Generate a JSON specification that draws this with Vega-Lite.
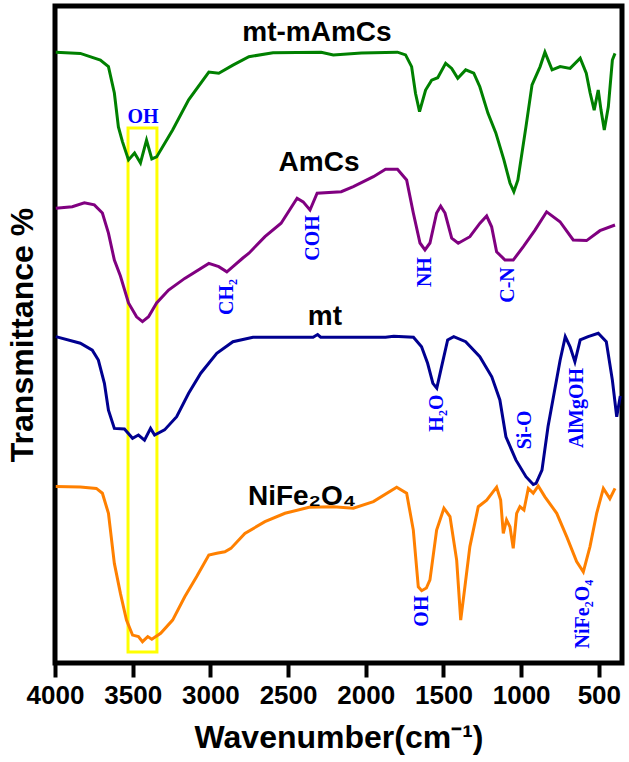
{
 "$schema": "https://vega.github.io/schema/vega-lite/v6.json",
 "width": 567,
 "height": 657,
 "autosize": {"type": "none"},
 "padding": {"left": 55, "top": 6, "right": 7, "bottom": 99},
 "background": "white",
 "config": {"view": {"stroke": "black", "strokeWidth": 5}},
 "datasets": {
  "spectra": [
   {"s":"mt-mAmCs","wn":3995,"t":203.6},{"s":"mt-mAmCs","wn":3837,"t":203.2},{"s":"mt-mAmCs","wn":3708,"t":201},{"s":"mt-mAmCs","wn":3656,"t":198.8},{"s":"mt-mAmCs","wn":3618,"t":190},{"s":"mt-mAmCs","wn":3592,"t":178.7},{"s":"mt-mAmCs","wn":3566,"t":173.8},{"s":"mt-mAmCs","wn":3527,"t":167.7},{"s":"mt-mAmCs","wn":3488,"t":170},{"s":"mt-mAmCs","wn":3450,"t":166.7},{"s":"mt-mAmCs","wn":3411,"t":174.3},{"s":"mt-mAmCs","wn":3377,"t":168},{"s":"mt-mAmCs","wn":3346,"t":168.7},{"s":"mt-mAmCs","wn":3243,"t":177.7},{"s":"mt-mAmCs","wn":3140,"t":187.7},{"s":"mt-mAmCs","wn":3010,"t":197},{"s":"mt-mAmCs","wn":2946,"t":196.6},{"s":"mt-mAmCs","wn":2855,"t":199.3},{"s":"mt-mAmCs","wn":2752,"t":202.1},{"s":"mt-mAmCs","wn":2597,"t":203.4},{"s":"mt-mAmCs","wn":2287,"t":203.6},{"s":"mt-mAmCs","wn":2209,"t":202.7},{"s":"mt-mAmCs","wn":2028,"t":203.3},{"s":"mt-mAmCs","wn":1796,"t":203.6},{"s":"mt-mAmCs","wn":1744,"t":202.7},{"s":"mt-mAmCs","wn":1705,"t":198.8},{"s":"mt-mAmCs","wn":1680,"t":189.9},{"s":"mt-mAmCs","wn":1654,"t":183.8},{"s":"mt-mAmCs","wn":1615,"t":191},{"s":"mt-mAmCs","wn":1576,"t":194.3},{"s":"mt-mAmCs","wn":1537,"t":195.1},{"s":"mt-mAmCs","wn":1486,"t":199.9},{"s":"mt-mAmCs","wn":1447,"t":198.2},{"s":"mt-mAmCs","wn":1408,"t":194.9},{"s":"mt-mAmCs","wn":1357,"t":197.7},{"s":"mt-mAmCs","wn":1305,"t":196.6},{"s":"mt-mAmCs","wn":1266,"t":192.1},{"s":"mt-mAmCs","wn":1214,"t":183.3},{"s":"mt-mAmCs","wn":1163,"t":176.7},{"s":"mt-mAmCs","wn":1111,"t":167.7},{"s":"mt-mAmCs","wn":1072,"t":160},{"s":"mt-mAmCs","wn":1047,"t":157.1},{"s":"mt-mAmCs","wn":1021,"t":161},{"s":"mt-mAmCs","wn":969,"t":178.8},{"s":"mt-mAmCs","wn":930,"t":192.7},{"s":"mt-mAmCs","wn":878,"t":198.8},{"s":"mt-mAmCs","wn":847,"t":203.6},{"s":"mt-mAmCs","wn":801,"t":197.7},{"s":"mt-mAmCs","wn":749,"t":198.8},{"s":"mt-mAmCs","wn":685,"t":198.2},{"s":"mt-mAmCs","wn":620,"t":201.6},{"s":"mt-mAmCs","wn":581,"t":196.6},{"s":"mt-mAmCs","wn":556,"t":190},{"s":"mt-mAmCs","wn":530,"t":184.3},{"s":"mt-mAmCs","wn":504,"t":191},{"s":"mt-mAmCs","wn":486,"t":184.3},{"s":"mt-mAmCs","wn":465,"t":177.7},{"s":"mt-mAmCs","wn":439,"t":185.4},{"s":"mt-mAmCs","wn":413,"t":201},{"s":"mt-mAmCs","wn":396,"t":203.2},
   {"s":"AmCs","wn":3995,"t":151.6},{"s":"AmCs","wn":3889,"t":152.1},{"s":"AmCs","wn":3811,"t":153.4},{"s":"AmCs","wn":3747,"t":152.7},{"s":"AmCs","wn":3695,"t":150},{"s":"AmCs","wn":3656,"t":143.3},{"s":"AmCs","wn":3618,"t":134.3},{"s":"AmCs","wn":3579,"t":129},{"s":"AmCs","wn":3527,"t":120},{"s":"AmCs","wn":3475,"t":115.4},{"s":"AmCs","wn":3437,"t":113.8},{"s":"AmCs","wn":3398,"t":115.4},{"s":"AmCs","wn":3346,"t":120},{"s":"AmCs","wn":3269,"t":124.3},{"s":"AmCs","wn":3165,"t":128.2},{"s":"AmCs","wn":3010,"t":133.2},{"s":"AmCs","wn":2946,"t":132.1},{"s":"AmCs","wn":2894,"t":130.4},{"s":"AmCs","wn":2855,"t":132.1},{"s":"AmCs","wn":2791,"t":135},{"s":"AmCs","wn":2752,"t":136.6},{"s":"AmCs","wn":2649,"t":142.1},{"s":"AmCs","wn":2545,"t":146.6},{"s":"AmCs","wn":2442,"t":154.9},{"s":"AmCs","wn":2403,"t":153.7},{"s":"AmCs","wn":2359,"t":151},{"s":"AmCs","wn":2313,"t":156.6},{"s":"AmCs","wn":2158,"t":157.1},{"s":"AmCs","wn":2080,"t":158.8},{"s":"AmCs","wn":1951,"t":162.1},{"s":"AmCs","wn":1873,"t":164.6},{"s":"AmCs","wn":1796,"t":164.6},{"s":"AmCs","wn":1737,"t":161},{"s":"AmCs","wn":1694,"t":150},{"s":"AmCs","wn":1651,"t":140},{"s":"AmCs","wn":1619,"t":137.7},{"s":"AmCs","wn":1587,"t":140},{"s":"AmCs","wn":1544,"t":150},{"s":"AmCs","wn":1518,"t":152.3},{"s":"AmCs","wn":1490,"t":150},{"s":"AmCs","wn":1447,"t":141.6},{"s":"AmCs","wn":1405,"t":139.9},{"s":"AmCs","wn":1330,"t":142.1},{"s":"AmCs","wn":1265,"t":146.6},{"s":"AmCs","wn":1222,"t":149},{"s":"AmCs","wn":1190,"t":145.4},{"s":"AmCs","wn":1158,"t":137.1},{"s":"AmCs","wn":1104,"t":134.3},{"s":"AmCs","wn":1051,"t":134.3},{"s":"AmCs","wn":986,"t":138.8},{"s":"AmCs","wn":911,"t":144.3},{"s":"AmCs","wn":836,"t":150.4},{"s":"AmCs","wn":750,"t":147.1},{"s":"AmCs","wn":665,"t":141},{"s":"AmCs","wn":579,"t":140.8},{"s":"AmCs","wn":493,"t":144.1},{"s":"AmCs","wn":396,"t":146},
   {"s":"mt","wn":3995,"t":108.8},{"s":"mt","wn":3837,"t":106.6},{"s":"mt","wn":3760,"t":104.3},{"s":"mt","wn":3721,"t":101},{"s":"mt","wn":3682,"t":93.2},{"s":"mt","wn":3656,"t":84.3},{"s":"mt","wn":3618,"t":78.2},{"s":"mt","wn":3553,"t":78},{"s":"mt","wn":3501,"t":74.9},{"s":"mt","wn":3463,"t":76},{"s":"mt","wn":3424,"t":74.3},{"s":"mt","wn":3385,"t":78.2},{"s":"mt","wn":3359,"t":76},{"s":"mt","wn":3295,"t":77.7},{"s":"mt","wn":3217,"t":82.1},{"s":"mt","wn":3140,"t":89.9},{"s":"mt","wn":3062,"t":96.6},{"s":"mt","wn":2959,"t":103.2},{"s":"mt","wn":2855,"t":107.1},{"s":"mt","wn":2726,"t":108.6},{"s":"mt","wn":2339,"t":108.6},{"s":"mt","wn":2310,"t":109.5},{"s":"mt","wn":2290,"t":108.6},{"s":"mt","wn":1873,"t":108.6},{"s":"mt","wn":1820,"t":108.9},{"s":"mt","wn":1693,"t":108.6},{"s":"mt","wn":1641,"t":105.4},{"s":"mt","wn":1602,"t":99.9},{"s":"mt","wn":1568,"t":93.2},{"s":"mt","wn":1543,"t":91.6},{"s":"mt","wn":1512,"t":98.8},{"s":"mt","wn":1473,"t":107.7},{"s":"mt","wn":1434,"t":108.8},{"s":"mt","wn":1357,"t":107.1},{"s":"mt","wn":1266,"t":102.1},{"s":"mt","wn":1189,"t":95.4},{"s":"mt","wn":1137,"t":87.7},{"s":"mt","wn":1098,"t":75.4},{"s":"mt","wn":1034,"t":67.7},{"s":"mt","wn":969,"t":62.1},{"s":"mt","wn":922,"t":59.5},{"s":"mt","wn":904,"t":59.9},{"s":"mt","wn":866,"t":64.3},{"s":"mt","wn":827,"t":78.8},{"s":"mt","wn":788,"t":89.9},{"s":"mt","wn":749,"t":101},{"s":"mt","wn":716,"t":108.8},{"s":"mt","wn":685,"t":105.4},{"s":"mt","wn":654,"t":100.4},{"s":"mt","wn":620,"t":107.7},{"s":"mt","wn":569,"t":108.8},{"s":"mt","wn":504,"t":109.9},{"s":"mt","wn":452,"t":107.1},{"s":"mt","wn":413,"t":94.3},{"s":"mt","wn":385,"t":82.1},{"s":"mt","wn":362,"t":89},
   {"s":"NiFe2O4","wn":3995,"t":58.8},{"s":"NiFe2O4","wn":3837,"t":58.7},{"s":"NiFe2O4","wn":3734,"t":58.2},{"s":"NiFe2O4","wn":3695,"t":56.6},{"s":"NiFe2O4","wn":3656,"t":49.9},{"s":"NiFe2O4","wn":3618,"t":33.2},{"s":"NiFe2O4","wn":3579,"t":23.2},{"s":"NiFe2O4","wn":3540,"t":14.3},{"s":"NiFe2O4","wn":3501,"t":9.3},{"s":"NiFe2O4","wn":3463,"t":8.8},{"s":"NiFe2O4","wn":3437,"t":7.1},{"s":"NiFe2O4","wn":3403,"t":8.8},{"s":"NiFe2O4","wn":3377,"t":7.9},{"s":"NiFe2O4","wn":3320,"t":9.9},{"s":"NiFe2O4","wn":3243,"t":14.3},{"s":"NiFe2O4","wn":3165,"t":22.1},{"s":"NiFe2O4","wn":3088,"t":28.8},{"s":"NiFe2O4","wn":3010,"t":36},{"s":"NiFe2O4","wn":2959,"t":36.6},{"s":"NiFe2O4","wn":2907,"t":37.1},{"s":"NiFe2O4","wn":2868,"t":38.2},{"s":"NiFe2O4","wn":2778,"t":43.2},{"s":"NiFe2O4","wn":2649,"t":47.1},{"s":"NiFe2O4","wn":2520,"t":49.9},{"s":"NiFe2O4","wn":2365,"t":51.9},{"s":"NiFe2O4","wn":2209,"t":52.1},{"s":"NiFe2O4","wn":2080,"t":51.6},{"s":"NiFe2O4","wn":1951,"t":53.8},{"s":"NiFe2O4","wn":1801,"t":58.6},{"s":"NiFe2O4","wn":1737,"t":56.6},{"s":"NiFe2O4","wn":1694,"t":44.3},{"s":"NiFe2O4","wn":1662,"t":25.4},{"s":"NiFe2O4","wn":1640,"t":24.1},{"s":"NiFe2O4","wn":1610,"t":25},{"s":"NiFe2O4","wn":1587,"t":27.7},{"s":"NiFe2O4","wn":1544,"t":44.3},{"s":"NiFe2O4","wn":1497,"t":51.6},{"s":"NiFe2O4","wn":1458,"t":48.8},{"s":"NiFe2O4","wn":1415,"t":34.3},{"s":"NiFe2O4","wn":1389,"t":14.3},{"s":"NiFe2O4","wn":1362,"t":25.4},{"s":"NiFe2O4","wn":1330,"t":38.8},{"s":"NiFe2O4","wn":1276,"t":52.1},{"s":"NiFe2O4","wn":1222,"t":54.3},{"s":"NiFe2O4","wn":1158,"t":58.6},{"s":"NiFe2O4","wn":1132,"t":54.3},{"s":"NiFe2O4","wn":1115,"t":43.2},{"s":"NiFe2O4","wn":1094,"t":47.7},{"s":"NiFe2O4","wn":1072,"t":45.4},{"s":"NiFe2O4","wn":1051,"t":38.2},{"s":"NiFe2O4","wn":1029,"t":49.9},{"s":"NiFe2O4","wn":1008,"t":52.1},{"s":"NiFe2O4","wn":982,"t":51},{"s":"NiFe2O4","wn":954,"t":58.2},{"s":"NiFe2O4","wn":922,"t":56.6},{"s":"NiFe2O4","wn":890,"t":59},{"s":"NiFe2O4","wn":847,"t":55.4},{"s":"NiFe2O4","wn":771,"t":49.9},{"s":"NiFe2O4","wn":707,"t":42.1},{"s":"NiFe2O4","wn":643,"t":33.8},{"s":"NiFe2O4","wn":600,"t":30.4},{"s":"NiFe2O4","wn":557,"t":38.8},{"s":"NiFe2O4","wn":514,"t":49.9},{"s":"NiFe2O4","wn":471,"t":58.2},{"s":"NiFe2O4","wn":429,"t":54.8},{"s":"NiFe2O4","wn":396,"t":58.2}
  ],
  "names": [
   {"label":"mt-mAmCs","wn":2314,"t":210},
   {"label":"AmCs","wn":2301,"t":166.7},
   {"label":"mt","wn":2263,"t":115.3},
   {"label":"NiFe₂O₄","wn":2410,"t":55.3}
  ],
  "flat": [
   {"label":"OH","wn":3434,"t":182}
  ],
  "rotated": [
   {"label":"CH₂","wn":2893,"t":122},
   {"label":"COH","wn":2340,"t":141.7},
   {"label":"NH","wn":1619,"t":130.3},
   {"label":"C-N","wn":1085,"t":126},
   {"label":"H₂O","wn":1542,"t":83.3},
   {"label":"Si-O","wn":976,"t":77.7},
   {"label":"AlMgOH","wn":641,"t":85},
   {"label":"OH","wn":1638,"t":17.3},
   {"label":"NiFe₂O₄","wn":602,"t":16.3}
  ],
  "box": [
   {"wn":3530,"wn2":3344,"t":3.7,"t2":178.3}
  ]
 },
 "encoding": {
  "x": {"field":"wn","type":"quantitative",
   "scale":{"domain":[351,4000],"reverse":true,"nice":false,"zero":false},
   "axis":{"values":[4000,3500,3000,2500,2000,1500,1000,500],"format":"d","title":"Wavenumber(cm⁻¹)","grid":false,"domain":false,
    "tickSize":14,"tickWidth":4,"tickColor":"black","labelFlush":false,"labelOverlap":false,
    "labelFont":"Liberation Sans","labelFontWeight":"bold","labelFontSize":26,"labelColor":"black","labelPadding":5,
    "titleFont":"Liberation Sans","titleFontWeight":"bold","titleFontSize":32,"titleColor":"black","titlePadding":14}},
  "y": {"field":"t","type":"quantitative",
   "scale":{"domain":[0,219],"nice":false,"zero":false},
   "axis":{"title":"Transmittance %","labels":false,"ticks":false,"domain":false,"grid":false,
    "titleFont":"Liberation Sans","titleFontWeight":"bold","titleFontSize":32,"titleColor":"black","titlePadding":16}}
 },
 "layer": [
  {"data":{"name":"box"},
   "mark":{"type":"rect","fillOpacity":0,"stroke":"#ffff00","strokeWidth":3},
   "encoding":{"x2":{"field":"wn2"},"y2":{"field":"t2"}}},
  {"data":{"name":"spectra"},
   "mark":{"type":"line","strokeWidth":3,"clip":true},
   "encoding":{"color":{"field":"s","type":"nominal","legend":null,
     "scale":{"domain":["mt-mAmCs","AmCs","mt","NiFe2O4"],"range":["#008000","#800080","#000090","#ff8000"]}}}},
  {"data":{"name":"names"},
   "mark":{"type":"text","font":"Liberation Sans","fontWeight":"bold","fontSize":28,"color":"black","align":"center","baseline":"middle"},
   "encoding":{"text":{"field":"label"}}},
  {"data":{"name":"flat"},
   "mark":{"type":"text","font":"Liberation Serif","fontWeight":"bold","fontSize":20,"color":"#0000ff","align":"center","baseline":"middle"},
   "encoding":{"text":{"field":"label"}}},
  {"data":{"name":"rotated"},
   "mark":{"type":"text","font":"Liberation Serif","fontWeight":"bold","fontSize":20,"color":"#0000ff","align":"center","baseline":"middle","angle":270},
   "encoding":{"text":{"field":"label"}}}
 ]
}
